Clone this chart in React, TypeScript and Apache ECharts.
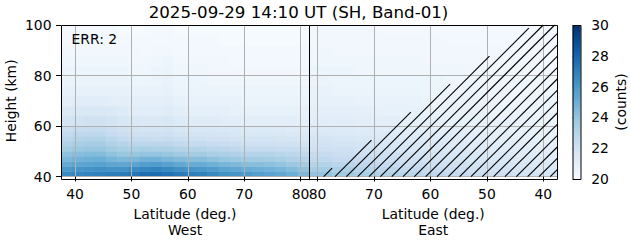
import React, { useEffect, useRef } from "react";
import * as echarts from "echarts";

// ---------------- data ----------------
const titleText = "2025-09-29 14:10 UT (SH, Band-01)";
const errText = "ERR: 2";
const latTicks = [40, 50, 60, 70, 80];
const latMin = 37.5;
const latMax = 81.5;
const heightMin = 40;
const heightMax = 100;
const heightInterval = 20;
const countsMin = 20;
const countsMax = 30;
const countsInterval = 2;

const westLatEdges = [37.5, 39.5, 41.5, 43.5, 45.5, 47.5, 49.5, 51.5, 53.5, 55.5, 57.5, 59.5, 61.5, 63.5, 65.5, 67.5, 69.5, 71.5, 73.5, 75.5, 77.5, 79.5, 81.5];
const eastLatEdges = [37.5, 41.5, 45.5, 49.5, 53.5, 57.5, 61.5, 65.5, 69.5, 73.5, 77.5, 81.5];
const heightEdges = [40, 42, 44, 46, 48, 50, 52, 54, 56, 58, 60, 64, 68, 72, 76, 80, 84, 88, 92, 96, 100];

// rows from bottom (40 km) to top (100 km); columns in ascending latitude
const westCounts = [
  [26.5, 26.7, 26.8, 26.9, 27.0, 27.1, 27.4, 27.6, 27.7, 27.5, 27.2, 27.0, 26.9, 26.6, 26.3, 26.1, 25.9, 25.7, 25.5, 25.3, 25.0, 24.6],
  [25.9, 26.1, 26.2, 26.3, 26.2, 26.2, 26.5, 26.7, 26.8, 26.6, 26.3, 26.1, 26.0, 25.8, 25.5, 25.3, 25.1, 25.0, 24.8, 24.7, 24.4, 24.1],
  [25.2, 25.4, 25.5, 25.6, 25.4, 25.3, 25.5, 25.7, 25.8, 25.6, 25.3, 25.1, 25.1, 24.9, 24.7, 24.5, 24.3, 24.3, 24.2, 24.0, 23.8, 23.6],
  [24.6, 24.8, 24.9, 25.0, 24.7, 24.5, 24.6, 24.8, 24.8, 24.6, 24.4, 24.3, 24.3, 24.1, 23.9, 23.8, 23.6, 23.6, 23.5, 23.4, 23.2, 23.1],
  [24.1, 24.3, 24.4, 24.4, 24.1, 23.9, 23.9, 24.0, 24.0, 23.9, 23.7, 23.6, 23.6, 23.4, 23.3, 23.2, 23.0, 23.0, 23.0, 22.9, 22.8, 22.7],
  [23.6, 23.8, 23.9, 23.9, 23.6, 23.4, 23.3, 23.4, 23.3, 23.3, 23.1, 23.0, 23.0, 22.9, 22.8, 22.7, 22.5, 22.5, 22.5, 22.4, 22.4, 22.3],
  [23.2, 23.4, 23.5, 23.5, 23.2, 23.0, 22.8, 22.8, 22.8, 22.8, 22.6, 22.5, 22.5, 22.4, 22.3, 22.3, 22.1, 22.1, 22.1, 22.0, 22.0, 21.9],
  [22.8, 23.0, 23.1, 23.1, 22.8, 22.6, 22.4, 22.4, 22.3, 22.4, 22.2, 22.1, 22.1, 22.0, 22.0, 21.9, 21.8, 21.8, 21.8, 21.7, 21.7, 21.6],
  [22.5, 22.7, 22.7, 22.7, 22.5, 22.3, 22.1, 22.0, 22.0, 22.1, 21.9, 21.8, 21.8, 21.7, 21.7, 21.6, 21.5, 21.5, 21.5, 21.5, 21.4, 21.4],
  [22.2, 22.4, 22.4, 22.4, 22.2, 22.0, 21.8, 21.7, 21.7, 21.8, 21.6, 21.5, 21.5, 21.5, 21.4, 21.4, 21.3, 21.3, 21.3, 21.3, 21.2, 21.2],
  [21.8, 21.9, 22.0, 22.0, 21.8, 21.6, 21.5, 21.4, 21.4, 21.5, 21.3, 21.2, 21.2, 21.2, 21.1, 21.1, 21.0, 21.0, 21.0, 21.0, 21.0, 20.9],
  [21.4, 21.5, 21.5, 21.5, 21.4, 21.3, 21.1, 21.1, 21.1, 21.2, 21.0, 20.9, 20.9, 20.9, 20.9, 20.8, 20.8, 20.8, 20.8, 20.8, 20.8, 20.7],
  [21.0, 21.1, 21.1, 21.1, 21.0, 21.0, 20.9, 20.9, 20.9, 21.0, 20.8, 20.7, 20.7, 20.7, 20.7, 20.7, 20.6, 20.6, 20.6, 20.6, 20.6, 20.6],
  [20.8, 20.8, 20.8, 20.8, 20.8, 20.8, 20.7, 20.7, 20.7, 20.8, 20.6, 20.6, 20.6, 20.6, 20.5, 20.5, 20.5, 20.5, 20.5, 20.5, 20.5, 20.5],
  [20.6, 20.6, 20.6, 20.6, 20.6, 20.6, 20.5, 20.5, 20.6, 20.7, 20.5, 20.5, 20.5, 20.4, 20.4, 20.4, 20.4, 20.4, 20.4, 20.4, 20.4, 20.4],
  [20.5, 20.5, 20.5, 20.5, 20.5, 20.5, 20.4, 20.4, 20.5, 20.6, 20.4, 20.4, 20.4, 20.3, 20.3, 20.3, 20.3, 20.3, 20.3, 20.3, 20.3, 20.3],
  [20.4, 20.4, 20.4, 20.4, 20.4, 20.4, 20.3, 20.3, 20.4, 20.5, 20.3, 20.3, 20.3, 20.3, 20.3, 20.2, 20.2, 20.2, 20.2, 20.2, 20.2, 20.2],
  [20.3, 20.3, 20.3, 20.3, 20.3, 20.3, 20.3, 20.2, 20.3, 20.3, 20.2, 20.2, 20.2, 20.2, 20.2, 20.2, 20.2, 20.2, 20.2, 20.2, 20.2, 20.2],
  [20.2, 20.2, 20.2, 20.2, 20.2, 20.2, 20.2, 20.2, 20.2, 20.2, 20.2, 20.2, 20.2, 20.2, 20.1, 20.1, 20.1, 20.1, 20.1, 20.1, 20.1, 20.1],
  [20.2, 20.2, 20.2, 20.2, 20.2, 20.1, 20.1, 20.1, 20.2, 20.2, 20.1, 20.1, 20.1, 20.1, 20.1, 20.1, 20.1, 20.1, 20.1, 20.1, 20.1, 20.1],
];

const eastCounts = [
  [21.7, 21.9, 22.1, 22.3, 22.5, 22.7, 22.9, 23.1, 23.4, 23.7, 24.0],
  [21.5, 21.7, 21.9, 22.0, 22.2, 22.4, 22.6, 22.8, 23.0, 23.3, 23.5],
  [21.4, 21.5, 21.7, 21.8, 22.0, 22.1, 22.3, 22.5, 22.7, 22.9, 23.1],
  [21.2, 21.4, 21.5, 21.6, 21.8, 21.9, 22.0, 22.2, 22.4, 22.5, 22.7],
  [21.1, 21.2, 21.3, 21.5, 21.6, 21.7, 21.8, 22.0, 22.1, 22.2, 22.4],
  [21.0, 21.1, 21.2, 21.3, 21.4, 21.5, 21.6, 21.7, 21.9, 22.0, 22.1],
  [20.9, 21.0, 21.1, 21.2, 21.3, 21.4, 21.5, 21.6, 21.7, 21.8, 21.9],
  [20.8, 20.9, 21.0, 21.1, 21.2, 21.3, 21.3, 21.4, 21.5, 21.6, 21.7],
  [20.8, 20.8, 20.9, 21.0, 21.1, 21.1, 21.2, 21.3, 21.3, 21.4, 21.5],
  [20.7, 20.8, 20.8, 20.9, 21.0, 21.0, 21.1, 21.1, 21.2, 21.3, 21.3],
  [20.6, 20.7, 20.7, 20.8, 20.8, 20.9, 20.9, 21.0, 21.0, 21.1, 21.1],
  [20.5, 20.6, 20.6, 20.7, 20.7, 20.7, 20.8, 20.8, 20.9, 20.9, 20.9],
  [20.5, 20.5, 20.5, 20.6, 20.6, 20.6, 20.7, 20.7, 20.7, 20.8, 20.8],
  [20.4, 20.4, 20.5, 20.5, 20.5, 20.5, 20.6, 20.6, 20.6, 20.6, 20.7],
  [20.4, 20.4, 20.4, 20.4, 20.4, 20.5, 20.5, 20.5, 20.5, 20.5, 20.6],
  [20.3, 20.3, 20.3, 20.4, 20.4, 20.4, 20.4, 20.4, 20.4, 20.5, 20.5],
  [20.3, 20.3, 20.3, 20.3, 20.3, 20.3, 20.4, 20.4, 20.4, 20.4, 20.4],
  [20.2, 20.2, 20.3, 20.3, 20.3, 20.3, 20.3, 20.3, 20.3, 20.3, 20.4],
  [20.2, 20.2, 20.2, 20.2, 20.2, 20.3, 20.3, 20.3, 20.3, 20.3, 20.3],
  [20.2, 20.2, 20.2, 20.2, 20.2, 20.2, 20.2, 20.2, 20.3, 20.3, 20.3],
];

// hatched (masked) region on the East side: polygon vertices
const hatchLat = [79.5, 37.5, 37.5, 41.8];
const hatchHeight = [40, 40, 100, 100];

// matplotlib "Blues"
const bluesColors = ["#f7fbff", "#deebf7", "#c6dbef", "#9ecae1", "#6baed6", "#4292c6", "#2171b5", "#08519c", "#08306b"];

// ---------------- layout / style ----------------
const FONT = "DejaVu Sans";
const W = 631;
const H = 243;
const PLOT_TOP = 25;
const PLOT_H = 154;
const WEST_LEFT = 61;
const WEST_W = 248;
const EAST_LEFT = 309;
const EAST_W = 248.5;
const CB_LEFT = 572.7;
const CB_W = 8;
const HATCH_SPACING = 11.33;
const HATCH_PHASE = 500.3;

function buildCells(latEdges: number[], counts: number[][]) {
  const out: number[][] = [];
  for (let r = 0; r < heightEdges.length - 1; r++) {
    for (let c = 0; c < latEdges.length - 1; c++) {
      out.push([latEdges[c], latEdges[c + 1], heightEdges[r], heightEdges[r + 1], counts[r][c]]);
    }
  }
  return out;
}

function renderCell(_params: any, api: any) {
  const a = api.coord([api.value(0), api.value(2)]);
  const b = api.coord([api.value(1), api.value(3)]);
  const x = Math.min(a[0], b[0]);
  const y = Math.min(a[1], b[1]);
  return {
    type: "rect",
    shape: { x: x - 0.3, y: y - 0.3, width: Math.abs(b[0] - a[0]) + 0.6, height: Math.abs(b[1] - a[1]) + 0.6 },
    style: { fill: api.visual("color") },
  };
}

function cross(ax: number, ay: number, bx: number, by: number) {
  return ax * by - ay * bx;
}

function clipLine(A: number[], B: number[], poly: number[][]) {
  let area = 0;
  for (let i = 0; i < poly.length; i++) {
    const p = poly[i];
    const q = poly[(i + 1) % poly.length];
    area += p[0] * q[1] - q[0] * p[1];
  }
  const s = area > 0 ? 1 : -1;
  const d = [B[0] - A[0], B[1] - A[1]];
  let t0 = 0;
  let t1 = 1;
  for (let i = 0; i < poly.length; i++) {
    const p = poly[i];
    const q = poly[(i + 1) % poly.length];
    const ex = q[0] - p[0];
    const ey = q[1] - p[1];
    const num = cross(ex, ey, A[0] - p[0], A[1] - p[1]) * s;
    const den = cross(ex, ey, d[0], d[1]) * s;
    if (Math.abs(den) < 1e-9) {
      if (num < 0) return null;
    } else {
      const t = -num / den;
      if (den > 0) t0 = Math.max(t0, t);
      else t1 = Math.min(t1, t);
    }
  }
  if (t0 >= t1) return null;
  return [A[0] + t0 * d[0], A[1] + t0 * d[1], A[0] + t1 * d[0], A[1] + t1 * d[1]];
}

function renderHatch(_params: any, api: any) {
  const poly = hatchLat.map((lat, i) => api.coord([lat, hatchHeight[i]]));
  let minS = Infinity;
  let maxS = -Infinity;
  let minX = Infinity;
  let maxX = -Infinity;
  poly.forEach((p: number[]) => {
    minS = Math.min(minS, p[0] + p[1]);
    maxS = Math.max(maxS, p[0] + p[1]);
    minX = Math.min(minX, p[0]);
    maxX = Math.max(maxX, p[0]);
  });
  const kStart = Math.floor((minS - HATCH_PHASE) / HATCH_SPACING);
  const kEnd = Math.ceil((maxS - HATCH_PHASE) / HATCH_SPACING);
  const pts: number[][] = [];
  for (let k = kStart; k <= kEnd; k++) {
    const c = HATCH_PHASE + k * HATCH_SPACING;
    const A = [minX - 5, c - (minX - 5)];
    const B = [maxX + 5, c - (maxX + 5)];
    const seg = clipLine(A, B, poly);
    if (!seg) continue;
    pts.push(seg);
  }
  return {
    type: "group",
    children: pts.map((seg, i) => ({
      type: "line",
      name: "hatch" + i,
      shape: { x1: seg[0], y1: seg[1], x2: seg[2], y2: seg[3] },
      style: { stroke: "#000", lineWidth: 1.1, fill: null },
    })),
  };
}

function renderColorbar(_params: any, api: any) {
  const a = api.coord([0, api.value(0)]);
  const b = api.coord([1, api.value(1)]);
  return {
    type: "rect",
    shape: { x: a[0], y: b[1], width: b[0] - a[0], height: a[1] - b[1] },
    style: {
      fill: new echarts.graphic.LinearGradient(
        0, 1, 0, 0,
        bluesColors.map((color, i) => ({ offset: i / (bluesColors.length - 1), color }))
      ),
    },
  };
}

const tickFont = { fontFamily: FONT, fontSize: 13.9, color: "#000", lineHeight: 14 };

function latAxis(gridIndex: number, inverse: boolean, side: string) {
  return {
    gridIndex,
    type: "value",
    min: latMin,
    max: latMax,
    inverse,
    z: 3,
    axisLine: { show: false },
    axisTick: { show: true, length: 4.9, customValues: latTicks, lineStyle: { color: "#000", width: 1 } },
    axisLabel: { ...tickFont, margin: 10.5, customValues: latTicks },
    splitLine: { show: true, lineStyle: { color: "#b0b0b0", width: 1 } },
    name: "Latitude (deg.)\n" + side,
    nameLocation: "middle",
    nameGap: 27,
    nameTextStyle: { fontFamily: FONT, fontSize: 13.9, color: "#000", lineHeight: 16 },
  };
}

function heightAxis(gridIndex: number, labelled: boolean) {
  return {
    gridIndex,
    type: "value",
    min: heightMin,
    max: heightMax,
    interval: heightInterval,
    z: 3,
    axisLine: { show: false },
    axisTick: { show: labelled, length: 4.9, lineStyle: { color: "#000", width: 1 } },
    axisLabel: { show: labelled, ...tickFont, margin: 9.5 },
    splitLine: { show: true, lineStyle: { color: "#b0b0b0", width: 1 } },
    name: labelled ? "Height (km)" : "",
    nameLocation: "middle",
    nameRotate: 90,
    nameGap: 43,
    nameTextStyle: { fontFamily: FONT, fontSize: 13.9, color: "#000" },
  };
}

export default function App() {
  const ref = useRef<HTMLDivElement>(null);
  useEffect(() => {
    if (!ref.current) return;
    const chart = echarts.init(ref.current, undefined, { renderer: "svg" });
    const frame = (x: number, w: number) => ({
      type: "rect",
      z: 100,
      shape: { x: x + 0.5, y: PLOT_TOP + 0.5, width: w, height: PLOT_H },
      style: { fill: "none", stroke: "#000", lineWidth: 1 },
      silent: true,
    });
    chart.setOption({
      animation: false,
      backgroundColor: "#fff",
      grid: [
        { left: WEST_LEFT, top: PLOT_TOP, width: WEST_W, height: PLOT_H },
        { left: EAST_LEFT, top: PLOT_TOP, width: EAST_W, height: PLOT_H },
        { left: CB_LEFT, top: PLOT_TOP, width: CB_W, height: PLOT_H },
      ],
      xAxis: [
        latAxis(0, false, "West"),
        latAxis(1, true, "East"),
        { gridIndex: 2, type: "value", min: 0, max: 1, show: false },
      ],
      yAxis: [
        heightAxis(0, true),
        heightAxis(1, false),
        {
          gridIndex: 2,
          type: "value",
          position: "right",
          min: countsMin,
          max: countsMax,
          interval: countsInterval,
          axisLine: { show: false },
          axisTick: { show: true, length: 4.9, lineStyle: { color: "#000", width: 1 } },
          axisLabel: { ...tickFont, margin: 10.5 },
          splitLine: { show: false },
          name: "(counts)",
          nameLocation: "middle",
          nameRotate: 90,
          nameGap: 33,
          nameTextStyle: { fontFamily: FONT, fontSize: 13.9, color: "#000" },
        },
      ],
      visualMap: {
        type: "continuous",
        show: false,
        min: countsMin,
        max: countsMax,
        dimension: 4,
        seriesIndex: [0, 1],
        inRange: { color: bluesColors },
      },
      series: [
        {
          type: "custom",
          xAxisIndex: 0,
          yAxisIndex: 0,
          clip: true,
          z: 1,
          encode: { x: [0, 1], y: [2, 3] },
          renderItem: renderCell,
          data: buildCells(westLatEdges, westCounts),
        },
        {
          type: "custom",
          xAxisIndex: 1,
          yAxisIndex: 1,
          clip: true,
          z: 1,
          encode: { x: [0, 1], y: [2, 3] },
          renderItem: renderCell,
          data: buildCells(eastLatEdges, eastCounts),
        },
        {
          type: "custom",
          xAxisIndex: 1,
          yAxisIndex: 1,
          z: 5,
          silent: true,
          encode: { x: 0, y: 1 },
          renderItem: renderHatch,
          data: [[hatchLat[0], hatchHeight[0]]],
        },
        {
          type: "custom",
          xAxisIndex: 2,
          yAxisIndex: 2,
          z: 1,
          silent: true,
          encode: { y: [0, 1] },
          renderItem: renderColorbar,
          data: [[countsMin, countsMax]],
        },
      ],
      graphic: [
        frame(WEST_LEFT, WEST_W),
        frame(EAST_LEFT, EAST_W - 0.5),
        frame(CB_LEFT - 0.2, CB_W),
        {
          type: "text",
          z: 100,
          x: 298.5,
          y: 12.2,
          style: { text: titleText, fontFamily: FONT, fontSize: 16.67, fill: "#000", align: "center", verticalAlign: "middle" },
        },
        {
          type: "text",
          z: 100,
          x: 71.5,
          y: 38.5,
          style: { text: errText, fontFamily: FONT, fontSize: 13.9, fill: "#000", align: "left", verticalAlign: "middle" },
        },
      ],
    });
    return () => chart.dispose();
  }, []);
  return <div ref={ref} style={{ position: "fixed", left: 0, top: 0, width: W, height: H }} />;
}
